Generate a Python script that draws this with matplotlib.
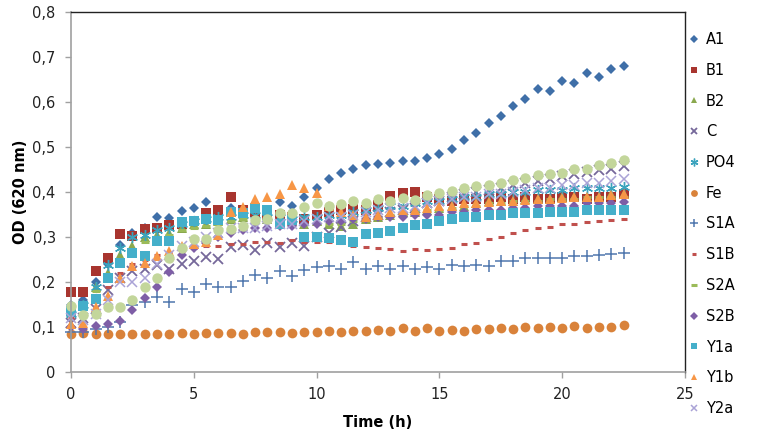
import matplotlib
matplotlib.use("Agg")
import matplotlib.pyplot as plt
from matplotlib.ticker import FuncFormatter

# sampling times (h)
time = [0, 0.5, 1, 1.5, 2, 2.5, 3, 3.5, 4, 4.5, 5, 5.5, 6, 6.5, 7, 7.5, 8, 8.5, 9, 9.5,
        10, 10.5, 11, 11.5, 12, 12.5, 13, 13.5, 14, 14.5, 15, 15.5, 16, 16.5, 17, 17.5,
        18, 18.5, 19, 19.5, 20, 20.5, 21, 21.5, 22, 22.5]

a1 = [0.15, 0.16, 0.20, 0.24, 0.282, 0.31, 0.32, 0.345, 0.343, 0.358,
      0.364, 0.377, 0.36, 0.365, 0.355, 0.36, 0.36, 0.378, 0.368, 0.39,
      0.41, 0.428, 0.442, 0.451, 0.461, 0.463, 0.465, 0.469, 0.47, 0.476,
      0.485, 0.496, 0.515, 0.531, 0.553, 0.57, 0.591, 0.607, 0.63, 0.624,
      0.646, 0.643, 0.665, 0.655, 0.673, 0.68]
b1 = [0.178, 0.178, 0.225, 0.253, 0.307, 0.302, 0.318, 0.32, 0.327, 0.33,
      0.335, 0.353, 0.36, 0.39, 0.36, 0.355, 0.35, 0.35, 0.345, 0.34,
      0.35, 0.355, 0.36, 0.362, 0.36, 0.372, 0.391, 0.398, 0.399, 0.39,
      0.385, 0.38, 0.385, 0.385, 0.385, 0.39, 0.385, 0.39, 0.385, 0.385,
      0.39, 0.39, 0.385, 0.39, 0.39, 0.395]
b2 = [0.14, 0.15, 0.19, 0.22, 0.26, 0.28, 0.30, 0.305, 0.31, 0.32,
      0.33, 0.33, 0.335, 0.34, 0.345, 0.34, 0.34, 0.33, 0.335, 0.33,
      0.335, 0.33, 0.325, 0.33, 0.34, 0.345, 0.35, 0.355, 0.355, 0.36,
      0.365, 0.37, 0.37, 0.375, 0.38, 0.38, 0.38, 0.385, 0.385, 0.385,
      0.39, 0.39, 0.39, 0.39, 0.395, 0.395]
c = [0.11, 0.12, 0.14, 0.182, 0.21, 0.225, 0.23, 0.238, 0.23, 0.24,
     0.247, 0.255, 0.252, 0.278, 0.283, 0.271, 0.287, 0.278, 0.286, 0.28,
     0.30, 0.31, 0.323, 0.335, 0.345, 0.35, 0.355, 0.36, 0.365, 0.375,
     0.38, 0.39, 0.395, 0.40, 0.405, 0.41, 0.415, 0.42, 0.425, 0.43,
     0.435, 0.44, 0.445, 0.45, 0.452, 0.458]
po4 = [0.13, 0.15, 0.19, 0.238, 0.275, 0.30, 0.305, 0.315, 0.32, 0.33,
       0.335, 0.34, 0.345, 0.345, 0.35, 0.35, 0.345, 0.345, 0.34, 0.345,
       0.345, 0.35, 0.35, 0.355, 0.36, 0.365, 0.37, 0.37, 0.375, 0.38,
       0.38, 0.385, 0.39, 0.39, 0.395, 0.395, 0.40, 0.40, 0.405, 0.405,
       0.405, 0.41, 0.41, 0.41, 0.41, 0.412]
fe = [0.084, 0.087, 0.084, 0.085, 0.085, 0.085, 0.085, 0.085, 0.085, 0.087,
      0.085, 0.087, 0.086, 0.087, 0.085, 0.090, 0.088, 0.090, 0.087, 0.088,
      0.088, 0.091, 0.088, 0.091, 0.091, 0.093, 0.091, 0.097, 0.092, 0.097,
      0.092, 0.094, 0.091, 0.096, 0.095, 0.097, 0.096, 0.100, 0.097, 0.100,
      0.097, 0.103, 0.097, 0.100, 0.100, 0.104]
s1a = [0.088, 0.09, 0.095, 0.10, 0.112, 0.149, 0.156, 0.167, 0.156, 0.184,
       0.178, 0.195, 0.188, 0.188, 0.202, 0.216, 0.208, 0.225, 0.214, 0.226,
       0.233, 0.236, 0.23, 0.245, 0.228, 0.236, 0.23, 0.236, 0.228, 0.233,
       0.23, 0.238, 0.236, 0.238, 0.236, 0.247, 0.247, 0.253, 0.253, 0.253,
       0.254, 0.258, 0.258, 0.26, 0.262, 0.264]
s1b = [0.12, 0.13, 0.16, 0.19, 0.22, 0.24, 0.25, 0.26, 0.265, 0.27,
       0.275, 0.28, 0.28, 0.285, 0.285, 0.29, 0.288, 0.286, 0.293, 0.29,
       0.29, 0.288, 0.286, 0.281, 0.278, 0.275, 0.273, 0.27, 0.273, 0.271,
       0.273, 0.275, 0.284, 0.287, 0.295, 0.301, 0.308, 0.316, 0.319, 0.323,
       0.328, 0.328, 0.334, 0.336, 0.338, 0.339]
s2a = [0.13, 0.14, 0.18, 0.21, 0.25, 0.27, 0.29, 0.30, 0.305, 0.315,
       0.32, 0.325, 0.33, 0.335, 0.34, 0.335, 0.335, 0.33, 0.33, 0.33,
       0.33, 0.33, 0.33, 0.335, 0.34, 0.345, 0.35, 0.35, 0.355, 0.36,
       0.36, 0.365, 0.37, 0.37, 0.375, 0.375, 0.38, 0.38, 0.38, 0.385,
       0.385, 0.385, 0.39, 0.39, 0.39, 0.39]
s2b = [0.10, 0.096, 0.103, 0.107, 0.114, 0.138, 0.164, 0.19, 0.223, 0.26,
       0.275, 0.286, 0.30, 0.31, 0.315, 0.32, 0.32, 0.325, 0.325, 0.33,
       0.33, 0.335, 0.335, 0.34, 0.34, 0.345, 0.345, 0.345, 0.35, 0.35,
       0.35, 0.355, 0.355, 0.36, 0.36, 0.36, 0.365, 0.365, 0.37, 0.37,
       0.37, 0.37, 0.375, 0.375, 0.375, 0.378]
y1a = [0.136, 0.147, 0.162, 0.208, 0.242, 0.264, 0.258, 0.292, 0.292, 0.334,
       0.336, 0.341, 0.338, 0.356, 0.353, 0.364, 0.36, 0.33, 0.338, 0.299,
       0.30, 0.297, 0.293, 0.29, 0.307, 0.31, 0.314, 0.319, 0.327, 0.33,
       0.336, 0.339, 0.344, 0.345, 0.349, 0.35, 0.354, 0.354, 0.354, 0.356,
       0.356, 0.356, 0.359, 0.359, 0.36, 0.36]
y1b = [0.107, 0.11, 0.144, 0.168, 0.21, 0.236, 0.243, 0.258, 0.27, 0.28,
       0.285, 0.29, 0.304, 0.355, 0.367, 0.385, 0.39, 0.395, 0.415, 0.408,
       0.397, 0.37, 0.355, 0.35, 0.345, 0.35, 0.355, 0.36, 0.36, 0.365,
       0.37, 0.37, 0.375, 0.375, 0.378, 0.38, 0.38, 0.383, 0.385, 0.385,
       0.387, 0.39, 0.39, 0.39, 0.393, 0.395]
y2a = [0.12, 0.115, 0.13, 0.16, 0.20, 0.20, 0.21, 0.24, 0.26, 0.28,
       0.29, 0.30, 0.31, 0.32, 0.32, 0.32, 0.325, 0.33, 0.33, 0.335,
       0.34, 0.345, 0.345, 0.35, 0.355, 0.36, 0.365, 0.365, 0.37, 0.375,
       0.38, 0.385, 0.39, 0.39, 0.395, 0.395, 0.40, 0.405, 0.41, 0.41,
       0.415, 0.415, 0.42, 0.42, 0.425, 0.428]
# last series (light green circles) - its legend entry is cut off in the original
y2b = [0.147, 0.127, 0.129, 0.144, 0.145, 0.16, 0.19, 0.209, 0.253, 0.276,
       0.295, 0.295, 0.315, 0.318, 0.324, 0.338, 0.34, 0.353, 0.353, 0.367,
       0.375, 0.37, 0.373, 0.381, 0.376, 0.384, 0.379, 0.386, 0.382, 0.393,
       0.397, 0.403, 0.408, 0.414, 0.415, 0.421, 0.427, 0.432, 0.438, 0.441,
       0.443, 0.451, 0.451, 0.46, 0.464, 0.471]

# (label, data, marker, color, size, edge width)
series = [
    ("A1", a1, "D", "#3f6fa8", 5.5, 0),
    ("B1", b1, "s", "#a8352f", 6.5, 0),
    ("B2", b2, "^", "#8aa84e", 7, 0),
    ("C", c, "x", "#76689a", 7, 1.3),
    ("PO4", po4, (6, 2, 0), "#3ba3bd", 8, 1.0),
    ("Fe", fe, "o", "#d9823a", 7, 0),
    ("S1A", s1a, "+", "#4f77ae", 8, 1.1),
    ("S1B", s1b, "_", "#c0504d", 5, 2.2),
    ("S2A", s2a, "_", "#9bbb59", 6, 2.2),
    ("S2B", s2b, "D", "#7e5ea6", 5.5, 0),
    ("Y1a", y1a, "s", "#45afca", 6.5, 0),
    ("Y1b", y1b, "^", "#f79646", 7, 0),
    ("Y2a", y2a, "x", "#aaa3d6", 7, 1.1),
    ("_Y2b", y2b, "o", "#c3d69b", 7.5, 0),
]

plt.rcParams["font.family"] = "DejaVu Sans"

fig = plt.figure(figsize=(7.72, 4.41), dpi=100)
ax = fig.add_axes([71 / 772, 69 / 441, 614 / 772, 360 / 441])

for label, vals, mk, col, ms, mew in series:
    ax.plot(time, vals, linestyle="none", marker=mk, color=col, markersize=ms,
            markeredgewidth=mew, label=label, clip_on=False)

ax.set_xlim(0, 25)
ax.set_ylim(0, 0.8)
ax.set_xticks([0, 5, 10, 15, 20, 25])
ax.set_yticks([0, 0.1, 0.2, 0.3, 0.4, 0.5, 0.6, 0.7, 0.8])
ax.yaxis.set_major_formatter(FuncFormatter(
    lambda v, p: "0" if abs(v) < 1e-9 else f"{v:.1f}".replace(".", ",")))

for side in ["top", "right"]:
    ax.spines[side].set_color("#222222")
    ax.spines[side].set_linewidth(1.0)
for side in ["left", "bottom"]:
    ax.spines[side].set_color("#a0a0a0")
    ax.spines[side].set_linewidth(1.2)
ax.tick_params(axis="both", direction="out", length=4, width=1, color="#a0a0a0",
               labelsize=10.5, labelcolor="#222222")
ax.tick_params(axis="y", pad=7)
ax.tick_params(axis="x", pad=7)

ax.set_xlabel("Time (h)", fontsize=10.5, fontweight="bold", labelpad=9)
ax.set_ylabel("OD (620 nm)", fontsize=10.5, fontweight="bold", labelpad=3)

handles, labels = ax.get_legend_handles_labels()
fig.legend(handles, labels, loc="upper left", bbox_to_anchor=(690 / 772, 1 - 32 / 441),
           frameon=False, fontsize=10.5, labelspacing=1.08, handlelength=0.6,
           handletextpad=0.5, markerscale=0.7, borderaxespad=0, borderpad=0)

fig.savefig("out.png", dpi=100)
